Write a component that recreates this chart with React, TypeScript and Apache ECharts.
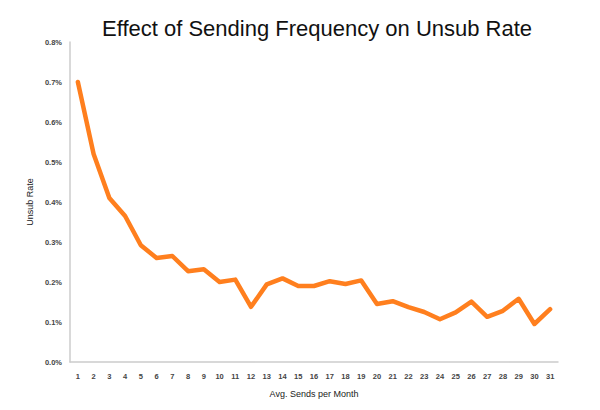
import React, { useEffect, useRef } from "react";
import * as echarts from "echarts";

const sends: string[] = [
  "1","2","3","4","5","6","7","8","9","10","11","12","13","14","15","16",
  "17","18","19","20","21","22","23","24","25","26","27","28","29","30","31",
];
const unsubRate: number[] = [
  0.70, 0.52, 0.41, 0.365, 0.292, 0.26, 0.265, 0.227, 0.232, 0.2, 0.206,
  0.138, 0.194, 0.209, 0.19, 0.19, 0.202, 0.195, 0.204, 0.145, 0.152,
  0.137, 0.125, 0.107, 0.124, 0.151, 0.113, 0.128, 0.158, 0.095, 0.132,
];
const yTicks = { min: 0, max: 0.8, interval: 0.1 };

export default function App() {
  const ref = useRef<HTMLDivElement>(null);
  useEffect(() => {
    if (!ref.current) return;
    const chart = echarts.init(ref.current, null, { renderer: "svg" });
    chart.setOption({
      animation: false,
      backgroundColor: "#ffffff",
      title: {
        text: "Effect of Sending Frequency on Unsub Rate",
        left: 97,
        top: 12,
        textStyle: {
          fontFamily: "Liberation Sans, Arial, sans-serif",
          fontSize: 22,
          fontWeight: "normal",
          color: "#111111",
        },
      },
      grid: { left: 70, right: 42, top: 42, bottom: 48 },
      xAxis: {
        type: "category",
        data: sends,
        boundaryGap: true,
        name: "Avg. Sends per Month",
        nameLocation: "middle",
        nameGap: 27,
        nameTextStyle: { fontFamily: "Liberation Sans, Arial, sans-serif", fontSize: 9, color: "#222" },
        axisLine: { lineStyle: { color: "#cccccc", width: 1.5 } },
        axisTick: { show: false },
        axisLabel: {
          interval: 0,
          margin: 10,
          fontFamily: "Liberation Sans, Arial, sans-serif",
          fontSize: 7.5,
          fontWeight: "bold",
          color: "#444",
        },
        splitLine: { show: false },
      },
      yAxis: {
        type: "value",
        min: yTicks.min,
        max: yTicks.max,
        interval: yTicks.interval,
        name: "Unsub Rate",
        nameLocation: "middle",
        nameGap: 30,
        nameTextStyle: { fontFamily: "Liberation Sans, Arial, sans-serif", fontSize: 9, color: "#222" },
        axisLine: { show: true, lineStyle: { color: "#cccccc", width: 1.5 } },
        axisTick: { show: false },
        axisLabel: {
          margin: 8,
          formatter: (v: number) => v.toFixed(1) + "%",
          fontFamily: "Liberation Sans, Arial, sans-serif",
          fontSize: 7.5,
          fontWeight: "bold",
          color: "#444",
        },
        splitLine: { show: false },
      },
      series: [
        {
          type: "line",
          data: unsubRate,
          symbol: "none",
          lineStyle: { color: "#ff7f1e", width: 4.5, join: "round", cap: "round" },
          itemStyle: { color: "#ff7f1e" },
        },
      ],
    });
    return () => chart.dispose();
  }, []);
  return (
    <div
      ref={ref}
      style={{ position: "fixed", left: 0, top: 0, width: 600, height: 410 }}
    />
  );
}
